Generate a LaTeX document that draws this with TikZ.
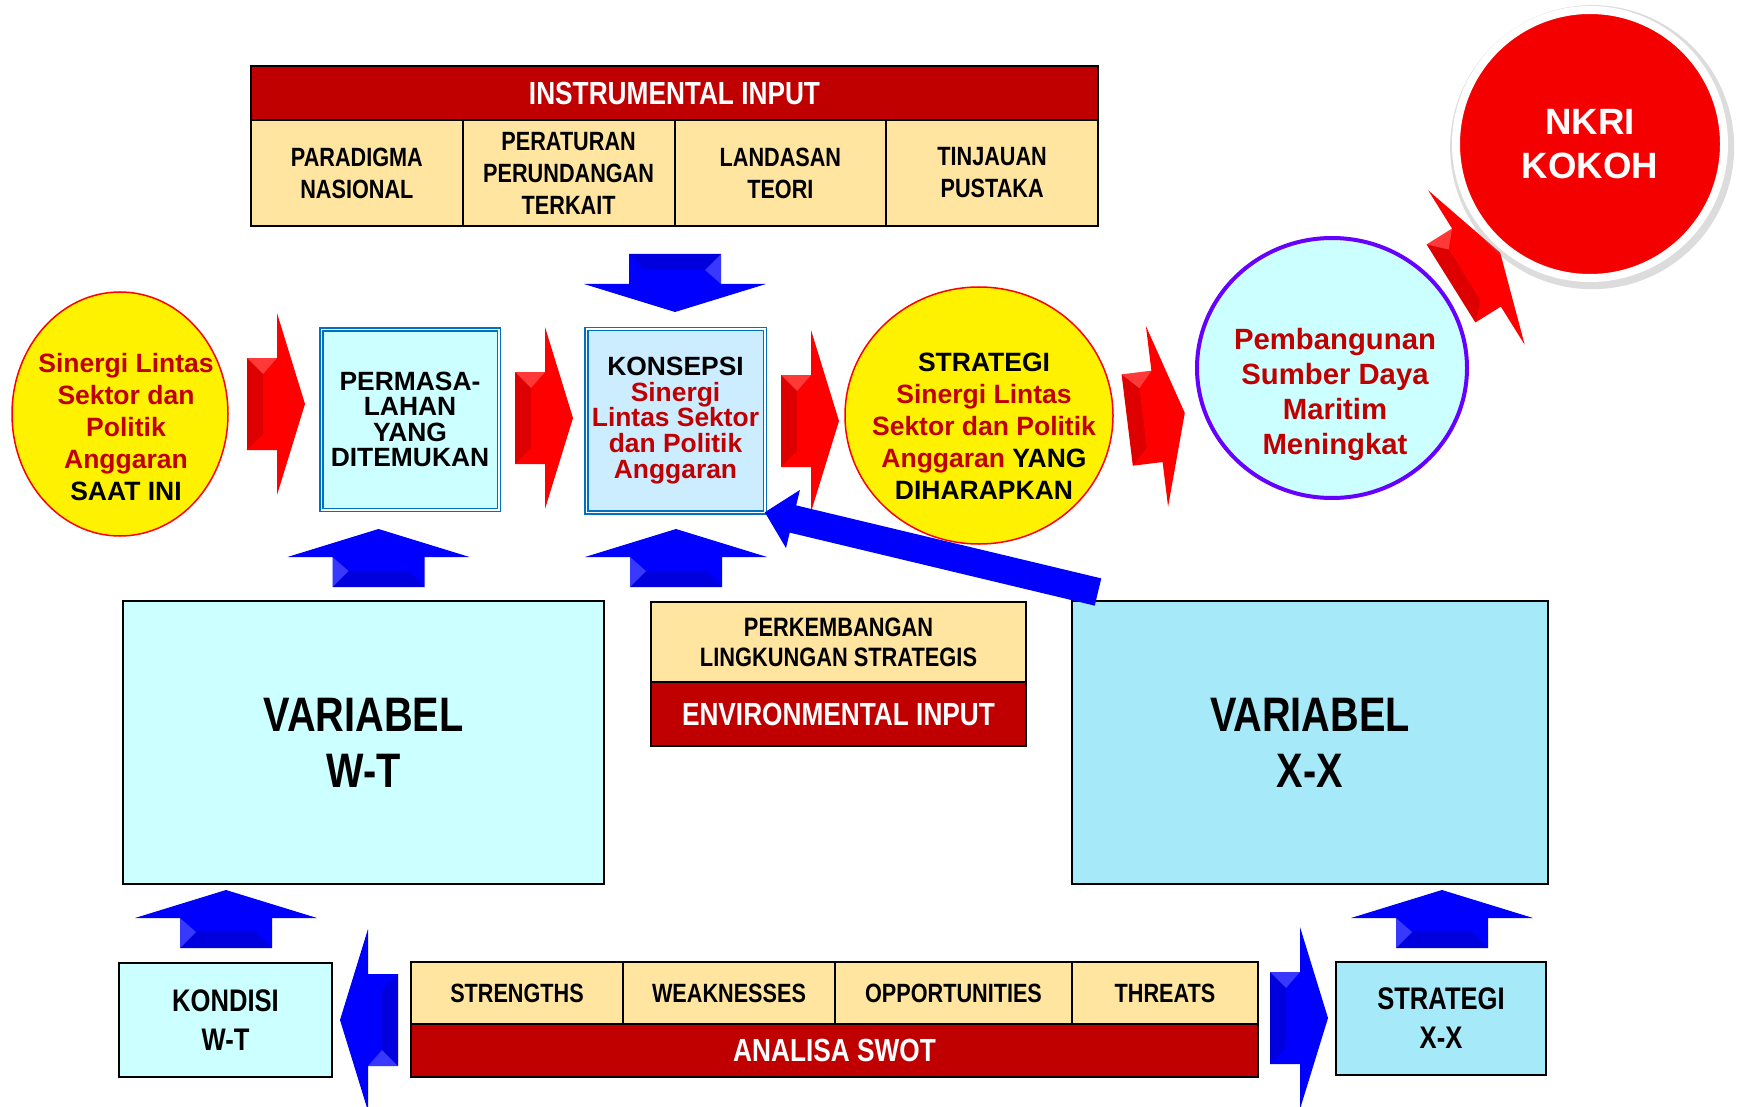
\documentclass[tikz,border=0pt]{standalone}
\usepackage{fontspec}
\setmainfont{Liberation Sans}
\newfontfamily\narrowfont[FakeStretch=0.82]{Liberation Sans}
\usetikzlibrary{positioning,calc,shapes.geometric,shadows,arrows.meta}

\definecolor{hdrred}{HTML}{C00000}
\definecolor{txtred}{HTML}{C00000}
\definecolor{cellbeige}{HTML}{FFE5A0}
\definecolor{palecyan}{HTML}{CCFFFF}
\definecolor{skycyan}{HTML}{A6E9F8}
\definecolor{paleblue}{HTML}{CCECFF}
\definecolor{frameblue}{HTML}{0070C0}
\definecolor{ringpurple}{HTML}{6600FF}

\tikzset{
  fatarrow/.pic={
    \path[pic actions] (-29,-46) -- (1,-46) -- (1,-91) -- (29,0) -- (1,91) -- (1,46) -- (-29,46) -- cycle;
    \fill[black, opacity=.13] (-29,-46) -- (-13,-30) -- (-13,30) -- (-29,46) -- cycle;
    \fill[white, opacity=.22] (-29,-46) -- (1,-46) -- (-13,-30) -- cycle;
  },
  redarr/.style={fill=red},
  bluearr/.style={fill=blue},
  cell/.style={draw, line width=2pt, fill=cellbeige, align=center, inner sep=0pt, outer sep=0pt,
    font=\narrowfont\bfseries\fontsize{26.4}{32}\selectfont},
  hdr/.style={cell, fill=hdrred, text=white, font=\narrowfont\bfseries\fontsize{32}{36}\selectfont},
  varbox/.style={draw, line width=2pt, align=center, outer sep=0pt,
    font=\narrowfont\bfseries\fontsize{48.4}{56}\selectfont},
  condbox/.style={draw, line width=2pt, align=center, outer sep=0pt,
    font=\narrowfont\bfseries\fontsize{31.2}{39}\selectfont},
  dblbox/.style={draw=frameblue, double=white, double distance=1.5pt, line width=1.5pt,
    align=center, inner sep=0pt, outer sep=0pt, font=\bfseries\fontsize{26.4}{25.6}\selectfont},
  bubble/.style={ellipse, draw=red, line width=1.5pt, fill=yellow, inner sep=0pt},
  bubbletext/.style={align=center, text=txtred, inner sep=0pt, font=\bfseries\fontsize{26.5}{32}\selectfont},
}

\begin{document}
\begin{tikzpicture}[x=1pt,y=-1pt]
\useasboundingbox (0,0) rectangle (1737,1107);

% instrumental input
\node[hdr, minimum width=847pt, minimum height=54pt] (instr) at (674.5,93) {INSTRUMENTAL INPUT};
\node[cell, minimum width=211.75pt, minimum height=106pt, anchor=north west] (paradigma) at (instr.south west) {PARADIGMA\\NASIONAL};
\node[cell, minimum width=211.75pt, minimum height=106pt, right=0pt of paradigma] (peraturan) {PERATURAN\\PERUNDANGAN\\TERKAIT};
\node[cell, minimum width=211.75pt, minimum height=106pt, right=0pt of peraturan] (landasan) {LANDASAN\\TEORI};
\node[cell, minimum width=211.75pt, minimum height=106pt, right=0pt of landasan] (tinjauan) {TINJAUAN\\PUSTAKA};

% main row
\node[bubble, minimum width=216pt, minimum height=244pt] (saat) at (120,414) {};
\node[bubbletext] (saattxt) at ($(saat)+(6,13)$) {Sinergi Lintas\\Sektor dan\\Politik\\Anggaran\\\textcolor{black}{SAAT INI}};

\node[dblbox, fill=palecyan, minimum width=177.5pt, minimum height=180.5pt] (masalah) at (410,419.5) {PERMASA-\\LAHAN\\YANG\\DITEMUKAN};

\node[dblbox, fill=paleblue, text=txtred, minimum width=178.5pt, minimum height=183.5pt] (konsepsi) at (675.5,420.5)
  {\textcolor{black}{KONSEPSI}\\Sinergi\\Lintas Sektor\\dan Politik\\Anggaran};

\node[bubble, minimum width=268pt, minimum height=257pt] (strategi) at (979,415.5) {};
\node[bubbletext] (strategitxt) at ($(strategi)+(5,11)$)
  {\textcolor{black}{STRATEGI}\\Sinergi Lintas\\Sektor dan Politik\\Anggaran \textcolor{black}{YANG}\\\textcolor{black}{DIHARAPKAN}};

\node[ellipse, draw=ringpurple, line width=4pt, fill=palecyan, minimum width=270pt, minimum height=260pt] (maritim) at (1332,368) {};
\node[bubbletext, font=\bfseries\fontsize{29.3}{35}\selectfont] (maritimtxt) at ($(maritim)+(3,26)$)
  {Pembangunan\\Sumber Daya\\Maritim\\Meningkat};

% red arrows
\pic[redarr] at (276,404) {fatarrow};
\pic[redarr] at (544,418) {fatarrow};
\pic[redarr] at (810,421) {fatarrow};
\pic[redarr, rotate=7] at (1156,416.5) {fatarrow};
\pic[redarr, rotate=32] at (1475.6,268.1) {fatarrow};

\node[circle, draw=white, line width=8pt, fill=red!96!black, minimum size=268pt,
  drop shadow={opacity=0.28, shadow xshift=2pt, shadow yshift=-3pt, shadow scale=1.06},
  align=center, text=white, font=\bfseries\fontsize{36.6}{44}\selectfont] (nkri) at (1590,144) {NKRI\\KOKOH};

% blue arrows into the main row
\pic[bluearr, rotate=-90] at (675,283) {fatarrow};
\pic[bluearr, rotate=90] at (378.5,558) {fatarrow};
\pic[bluearr, rotate=90] at (676,558) {fatarrow};

% variables
\node[varbox, fill=palecyan, minimum width=481pt, minimum height=283pt] (varwt) at (363.5,742.5) {VARIABEL\\W-T};
\node[varbox, fill=skycyan, minimum width=476pt, minimum height=283pt] (varxx) at (1310,742.5) {VARIABEL\\X-X};

% environmental input
\node[cell, minimum width=375pt, minimum height=80pt, anchor=north west,
  font=\narrowfont\bfseries\fontsize{26.6}{30}\selectfont] (lingk) at (651,602) {PERKEMBANGAN\\LINGKUNGAN STRATEGIS};
\node[hdr, minimum width=375pt, minimum height=64pt, below=0pt of lingk] (envin) {ENVIRONMENTAL INPUT};

% swot
\node[cell, minimum width=212pt, minimum height=62pt, anchor=north west] (strength) at (411,962) {STRENGTHS};
\node[cell, minimum width=212pt, minimum height=62pt, right=0pt of strength] (weak) {WEAKNESSES};
\node[cell, minimum width=237pt, minimum height=62pt, right=0pt of weak] (opport) {OPPORTUNITIES};
\node[cell, minimum width=186pt, minimum height=62pt, right=0pt of opport] (threat) {THREATS};
\node[hdr, minimum width=847pt, minimum height=53pt, anchor=north west] (swot) at (strength.south west) {ANALISA SWOT};

\node[condbox, fill=palecyan, minimum width=213pt, minimum height=114pt] (kondisi) at (225.5,1020) {KONDISI\\W-T};
\node[condbox, fill=skycyan, minimum width=210pt, minimum height=113pt] (stratxx) at (1441,1018.5) {STRATEGI\\X-X};

\pic[bluearr, rotate=180] at (369,1020) {fatarrow};
\pic[bluearr] at (1299,1018) {fatarrow};
\pic[bluearr, rotate=90] at (226,919) {fatarrow};
\pic[bluearr, rotate=90] at (1442,919) {fatarrow};

% feedback arrow
\coordinate (fbtail) at (1098,592);
\draw[blue, line width=28pt, -{Triangle[width=58pt,length=29pt]}] (fbtail) -- (konsepsi.south east);
\end{tikzpicture}
\end{document}
